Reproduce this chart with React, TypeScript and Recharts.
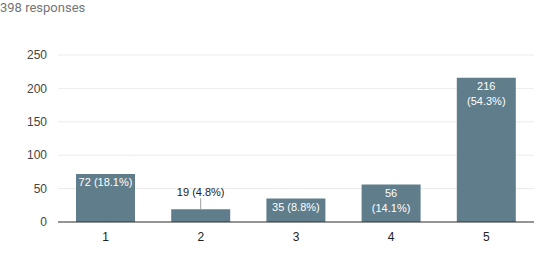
import { BarChart, Bar, XAxis, YAxis, CartesianGrid, LabelList } from "recharts";

const categories = ["1", "2", "3", "4", "5"];
const counts = [72, 19, 35, 56, 216];
// label text as shown on the chart ("\n" = wrapped line)
const barLabels = ["72 (18.1%)", "19 (4.8%)", "35 (8.8%)", "56\n(14.1%)", "216\n(54.3%)"];
const yTicks = [0, 50, 100, 150, 200, 250];
const totalResponses = 398;

const BAR_COLOR = "#607d8b";

const chartData = categories.map((name, i) => ({
  name,
  count: counts[i],
  label: barLabels[i],
}));

const BarLabel = (props: any) => {
  const { x, y, width, height, index } = props;
  const lines: string[] = chartData[index].label.split("\n");
  const cx = x + width / 2;
  if (height < 20) {
    // too short: label sits above the bar with a small leader line
    return (
      <g>
        <line x1={cx} y1={y - 11} x2={cx} y2={y} stroke="#9e9e9e" strokeWidth={1} />
        <text x={cx} y={y - 13} textAnchor="middle" fill="#222" fontSize={11} fontFamily="Arial, Liberation Sans, sans-serif">
          {lines.join(" ")}
        </text>
      </g>
    );
  }
  return (
    <text textAnchor="middle" fill="#fff" fontSize={11} fontFamily="Arial, Liberation Sans, sans-serif">
      {lines.map((t, i) => (
        <tspan key={i} x={cx} y={y + 12 + i * 15}>
          {t}
        </tspan>
      ))}
    </text>
  );
};

export default function App() {
  return (
    <div style={{ position: "absolute", left: 0, top: 0, width: 540, height: 253, background: "#fff" }}>
      <div
        style={{
          position: "absolute",
          left: 0,
          top: 0,
          fontFamily: "Roboto, sans-serif",
          fontSize: 13,
          color: "#757575",
          lineHeight: "16px",
        }}
      >
        {totalResponses} responses
      </div>
      <BarChart
        width={540}
        height={253}
        data={chartData}
        margin={{ top: 55, right: 6, left: 0, bottom: 0 }}
        barCategoryGap={0}
      >
        <CartesianGrid stroke="#ebebeb" vertical={false} />
        <XAxis
          dataKey="name"
          height={31}
          axisLine={{ stroke: "#333" }}
          tickLine={false}
          tickSize={0}
          tickMargin={10}
          tick={{ fill: "#222", fontSize: 12, fontFamily: "Arial, Liberation Sans, sans-serif" }}
        />
        <YAxis
          width={58}
          domain={[0, 250]}
          ticks={yTicks}
          axisLine={false}
          tickLine={false}
          tickSize={0}
          tickMargin={11}
          tick={{ fill: "#444", fontSize: 12, fontFamily: "Arial, Liberation Sans, sans-serif" }}
        />
        <Bar dataKey="count" fill={BAR_COLOR} barSize={59} isAnimationActive={false}>
          <LabelList dataKey="count" content={<BarLabel />} />
        </Bar>
      </BarChart>
    </div>
  );
}
